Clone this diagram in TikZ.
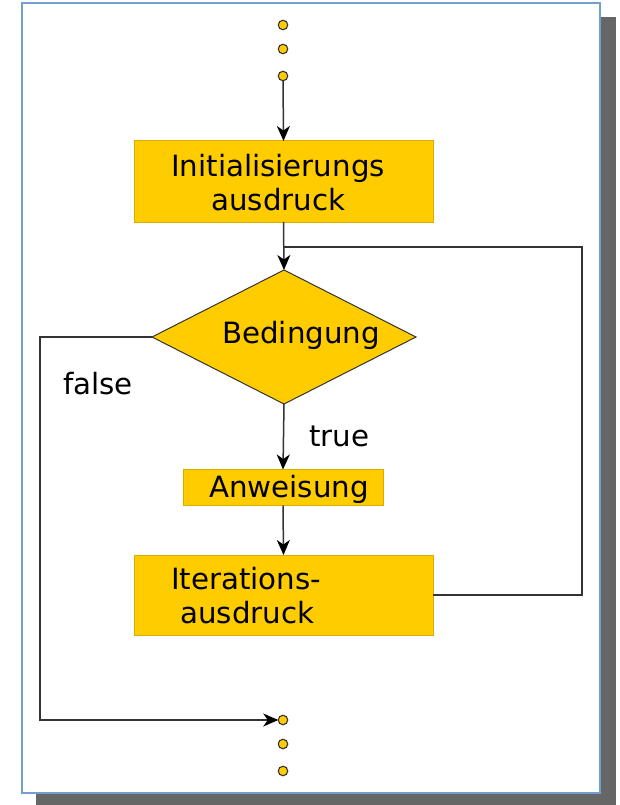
\documentclass[tikz,border=0pt]{standalone}
\usepackage{fontspec}
\setmainfont{DejaVu Sans}
\usetikzlibrary{shapes.geometric,arrows.meta}

\definecolor{pageblue}{HTML}{729FCF}
\definecolor{shadowgray}{HTML}{666666}
\definecolor{flowyellow}{HTML}{FFCC00}
\definecolor{flowedge}{HTML}{D9AD00}
\definecolor{linegray}{HTML}{333333}

\tikzset{
  flowbox/.style={rectangle, fill=flowyellow, draw=flowedge, line width=1pt,
    inner sep=0pt, outer sep=0pt},
  decision/.style={diamond, fill=flowyellow, draw=linegray, line width=1pt,
    inner sep=0pt, outer sep=0pt, minimum width=264pt, minimum height=134pt},
  contdot/.style={circle, fill=flowyellow, draw=linegray, line width=1.1pt,
    inner sep=0pt, outer sep=0pt, minimum size=9.5pt},
  flowtext/.style={font=\fontsize{29.3}{34}\selectfont, text=black, inner sep=0pt,
    anchor=base west},
  flowline/.style={draw=linegray, line width=1.5pt},
  flowarrow/.style={flowline,
    -{Stealth[length=15pt,width=13pt,inset=4.5pt,color=black]}}
}

\begin{document}
\begin{tikzpicture}[x=1pt,y=-1pt]
  \useasboundingbox (0,0) rectangle (619,805);

  % sheet with drop shadow
  \fill[shadowgray] (36,17) rectangle (616,805);
  \filldraw[fill=white, draw=pageblue, line width=1.4pt] (22,3) rectangle (600,793);

  % continuation dots at the top
  \node[contdot] (tdot1) at (283,25) {};
  \node[contdot] (tdot2) at (283,49) {};
  \node[contdot] (tdot3) at (283,76) {};

  % initialisation
  \node[flowbox, minimum width=299pt, minimum height=81pt] (init) at (283.5,181.5) {};
  \node[flowtext] (initA) at (171,176) {Initialisierungs};
  \node[flowtext] (initB) at (211,210) {ausdruck};

  % condition
  \node[decision] (cond) at (284,337) {};
  \node[flowtext] (condT) at (222,343) {Bedingung};

  % body
  \node[flowbox, minimum width=200pt, minimum height=36pt] (act) at (283,487.5) {};
  \node[flowtext] (actT) at (209,497) {Anweisung};

  % iteration expression
  \node[flowbox, minimum width=299pt, minimum height=80pt] (iter) at (283.5,595) {};
  \node[flowtext] (iterA) at (171,589) {Iterations-};
  \node[flowtext] (iterB) at (180,623) {ausdruck};

  % continuation dots at the bottom
  \node[contdot] (bdot1) at (283,720) {};
  \node[contdot] (bdot2) at (283,744) {};
  \node[contdot] (bdot3) at (283,771) {};

  % branch labels
  \node[flowtext] (lblfalse) at (63,394) {false};
  \node[flowtext] (lbltrue) at (309,446) {true};

  % helper points of the routed lines
  \coordinate (join) at (283,247);
  \coordinate (loopcorner) at (582,247);
  \coordinate (exitcorner) at (40,337);

  % main flow
  \draw[flowarrow] (tdot3) -- (init.north);
  \draw[flowarrow] (init.south) -- (cond.north);
  \draw[flowarrow] (cond.south) -- (act.north);
  \draw[flowarrow] (act.south) -- (iter.north);

  % loop back
  \draw[flowline] (iter.east) -| (loopcorner) -- (join);

  % exit when the condition fails
  \draw[flowarrow] (cond.west) -- (exitcorner) |- (bdot1.west);
\end{tikzpicture}
\end{document}
